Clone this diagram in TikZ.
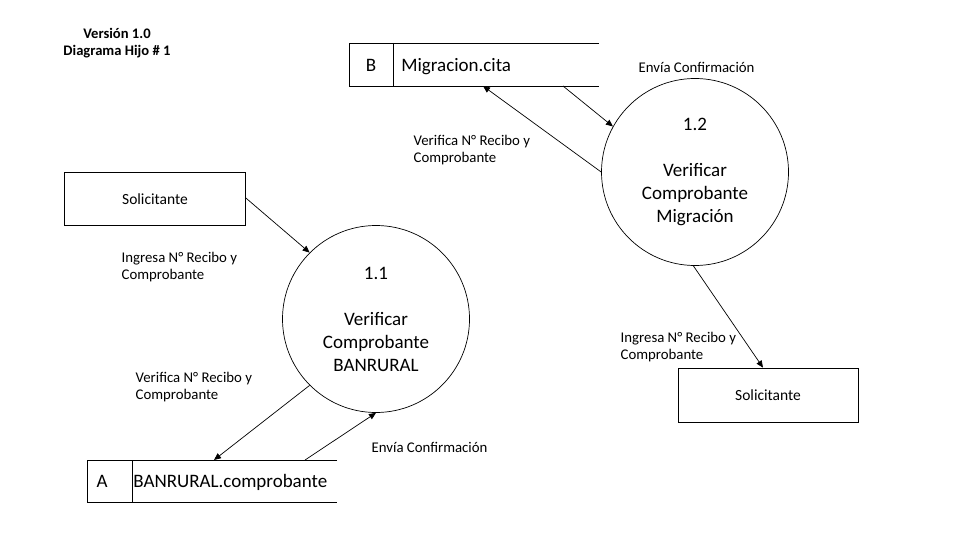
\documentclass[tikz,border=0pt]{standalone}
\usepackage{fontspec}
\setmainfont{Carlito}
\usetikzlibrary{arrows.meta}
\begin{document}
\begin{tikzpicture}[x=1pt,y=-1pt,>={Triangle[length=7pt,width=6pt]},line width=0.7pt,
    proceso/.style={circle,draw,minimum size=187pt,inner sep=0pt,align=center,font=\fontsize{19}{23}\selectfont},
    entidad/.style={draw,minimum width=181pt,minimum height=53pt,font=\fontsize{15.5}{18}\selectfont},
    flujo/.style={anchor=west,align=left,font=\fontsize{14.8}{16.5}\selectfont},
    almacen/.style={inner sep=0pt,font=\fontsize{19}{22}\selectfont}]
    \useasboundingbox (0,0) rectangle (960,540);
    % titulo
    \node[align=center,font=\bfseries\fontsize{14.6}{17}\selectfont] (titulo) at (117,43) {Versión 1.0\\Diagrama Hijo \# 1};
    % procesos
    \node[proceso] (P1) at (376,319) {1.1\\[23pt]Verificar\\Comprobante\\BANRURAL};
    \node[proceso] (P2) at (695,172) {1.2\\[23pt]Verificar\\Comprobante\\Migración};
    % entidades externas
    \node[entidad] (S1) at (155,199) {Solicitante};
    \node[entidad,minimum width=180pt,minimum height=54pt] (S2) at (768,395) {Solicitante};
    % almacenes
    \node[almacen,anchor=base] (letraB) at (371,72) {B};
    \node[almacen,anchor=base west] (migB) at (401,72) {Migracion.cita};
    \coordinate (B1) at (349,43);
    \coordinate (B2) at (599,43);
    \coordinate (B3) at (599,86);
    \coordinate (B4) at (349,86);
    \coordinate (Bd) at (393,43);
    \coordinate (Bsal) at (483,86);
    \coordinate (Bent) at (563,86);
    \draw (B2) -- (B1) -- (B4) -- (B3);
    \draw (Bd) -- (Bd |- B4);
    \node[almacen,anchor=base] (letraA) at (102,487) {A};
    \node[almacen,anchor=base west] (banA) at (133,487) {BANRURAL.comprobante};
    \coordinate (A1) at (87,460);
    \coordinate (A2) at (337,460);
    \coordinate (A3) at (337,502);
    \coordinate (A4) at (87,502);
    \coordinate (Ad) at (132,460);
    \coordinate (Aent) at (214,460);
    \coordinate (Asal) at (305,460);
    \draw (A2) -- (A1) -- (A4) -- (A3);
    \draw (Ad) -- (Ad |- A4);
    % flujos
    \draw [->] (S1.east |- 0,198) -- (P1.135);
    \draw [->] (P1.225) -- (Aent);
    \draw [->] (Asal) -- (P1.270);
    \draw [->] (P2.180) -- (Bsal);
    \draw [->] (Bent) -- (P2.151);
    \draw [->] (P2.269) -- (S2.north -| 763,0);
    % etiquetas
    \node[flujo] (f1) at (118,267) {Ingresa N° Recibo y\\Comprobante};
    \node[flujo] (f2) at (132,387) {Verifica N° Recibo y\\Comprobante};
    \node[flujo] (f3) at (368,447) {Envía Confirmación};
    \node[flujo] (f4) at (410,150) {Verifica N° Recibo y\\Comprobante};
    \node[flujo] (f5) at (635,67) {Envía Confirmación};
    \node[flujo] (f6) at (617,347) {Ingresa N° Recibo y\\Comprobante};
\end{tikzpicture}
\end{document}
